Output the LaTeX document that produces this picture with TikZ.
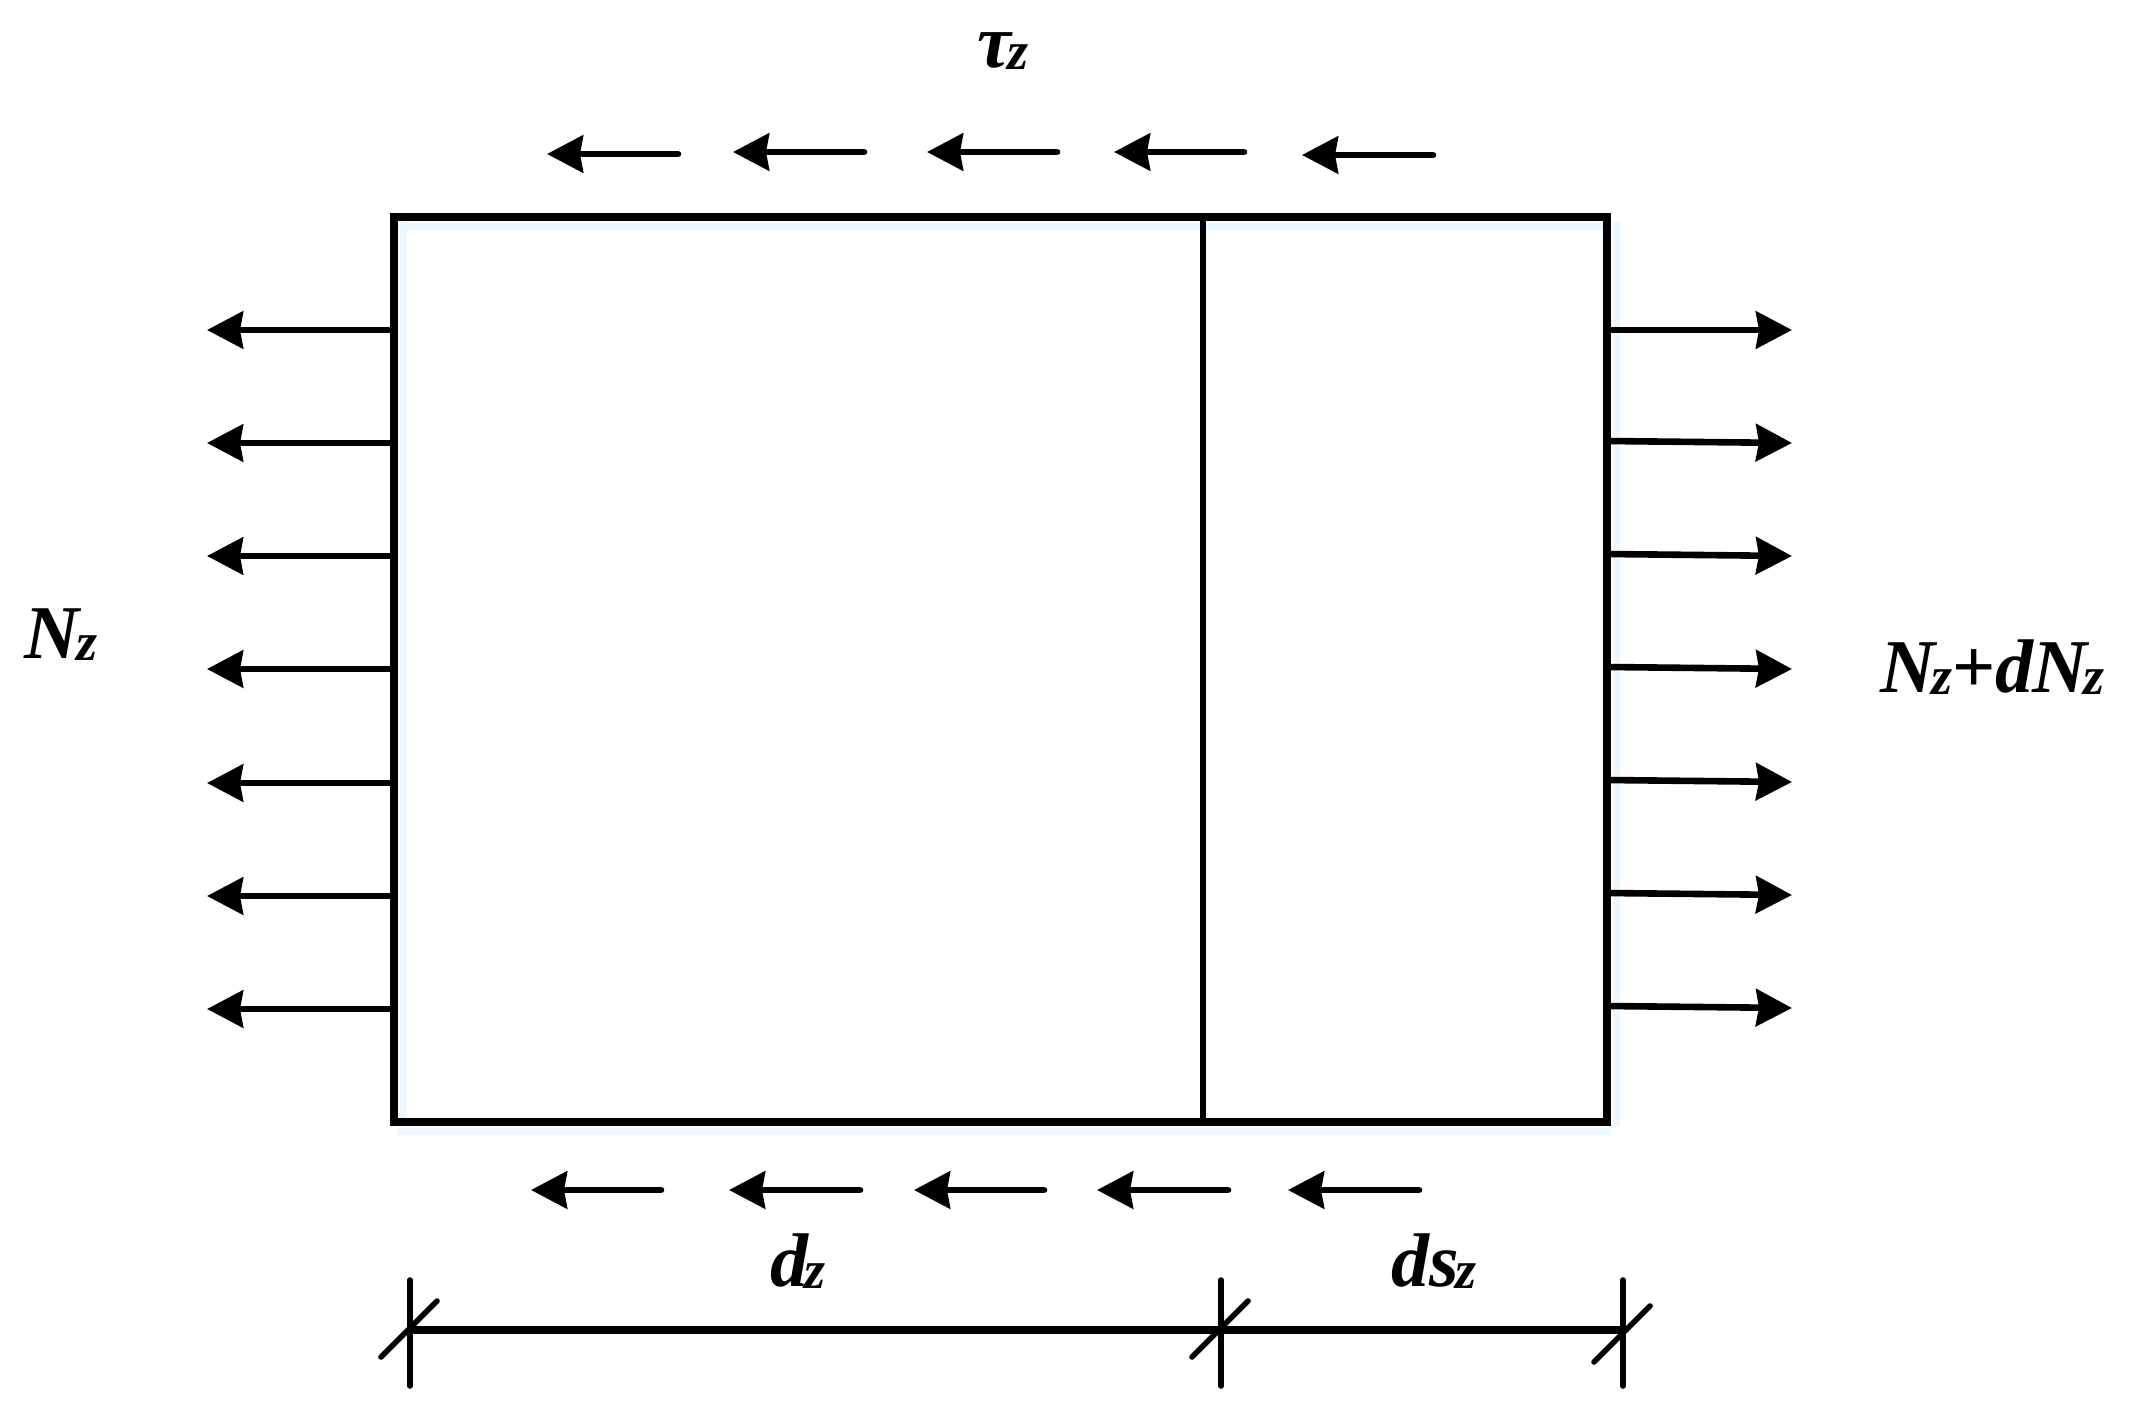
\documentclass[tikz,border=0pt]{standalone}
\usepackage{fontspec}
\setmainfont{Liberation Serif}
\usetikzlibrary{arrows.meta,calc}
\newcommand{\bigN}{{\fontsize{38}{40}\selectfont\bfseries\itshape N}}
\newcommand{\bigD}{{\fontsize{38}{40}\selectfont\bfseries\itshape d}}
\newcommand{\subZ}{\kern-1.6pt\raisebox{-1pt}{\fontsize{27}{30}\selectfont\bfseries\itshape z}}
\tikzset{
  x=0.5pt,y=-0.5pt,
  beam/.style={draw=black,line width=4pt,inner sep=0pt,outer sep=0pt,minimum width=606.5pt,minimum height=452.5pt},
  glow/.style={draw=blue!35!cyan!8!white,line width=3.5pt},
  force/.style={draw=black,line width=3.3pt,line cap=round,-{Stealth[length=18pt,width=18.5pt,inset=1.5pt]}},
  sideforce/.style={draw=black,line width=3.3pt,-{Stealth[length=18pt,width=18.5pt,inset=1.5pt]}},
  divider/.style={draw=black,line width=3pt},
  dimline/.style={draw=black,line width=4pt},
  tick/.style={draw=black,line width=2.8pt,line cap=round},
  lab/.style={inner sep=0pt,outer sep=0pt,anchor=base west,text=black}
}
\begin{document}
\begin{tikzpicture}
\useasboundingbox (0,0) rectangle (2130,1418);
% pale halo under the outline
\draw[glow] (397,226) -- (1604,226);
\draw[glow] (397,1131) -- (1610,1131);
\draw[glow] (403,222) -- (403,1126);
\draw[glow] (1616,222) -- (1616,1126);
% beam
\node[beam,anchor=north west] (box) at (394,217) {};
\coordinate (divT) at (1203,217);
\coordinate (divB) at (1203,1122);
\draw[divider] (divT) -- (divB);
% left and right normal forces
\foreach \i/\yy in {1/330,2/443,3/556,4/669,5/783,6/896,7/1009}{
  \coordinate (L\i) at (207,\yy);
  \coordinate (LS\i) at (box.west |- L\i);
  \draw[sideforce] (LS\i) -- (L\i);
}
\foreach \i/\ya/\yb in {1/330/330,2/441/443,3/554/556,4/667/669,5/780/782,6/893/895,7/1006/1008}{
  \coordinate (RS\i) at (1607,\ya);
  \coordinate (R\i) at (1792,\yb);
  \draw[sideforce] (RS\i) -- (R\i);
}
% top shear arrows
\foreach \i/\t/\h/\yy in {1/678/547/154,2/864/733/152,3/1057/927/152,4/1244/1114/152,5/1433/1302/155}{
  \coordinate (TA\i) at (\t,\yy);
  \coordinate (TB\i) at (\h,\yy);
  \draw[force] (TA\i) -- (TB\i);
}
% bottom shear arrows
\foreach \i/\t/\h in {1/661/531,2/860/729,3/1044/914,4/1228/1097,5/1419/1288}{
  \coordinate (BA\i) at (\t,1190);
  \coordinate (BB\i) at (\h,1190);
  \draw[force] (BA\i) -- (BB\i);
}
% dimension line
\coordinate (D1) at (410,1330);
\coordinate (D2) at (1221,1330);
\coordinate (D3) at (1623,1330);
\draw[dimline] (D1) -- (D2);
\draw[dimline] (D2) -- (D3);
\foreach \n/\xx/\dy in {D1/410/0,D2/1221/0,D3/1623/5}{
  \coordinate (\n t) at (\xx,1280);
  \coordinate (\n b) at (\xx,1386);
  \draw[tick] (\n t) -- (\n b);
  \coordinate (\n s) at ($(\n)+(-29,27+\dy)$);
  \coordinate (\n e) at ($(\n)+(27,-29+\dy)$);
  \draw[tick] (\n s) -- (\n e);
}
% labels
\node[lab] (tau) at (977,68) {{\fontsize{38}{40}\selectfont\bfseries\itshape τ}\subZ};
\node[lab] (nl) at (25,658) {\bigN\subZ};
\node[lab] (nr) at (1880,692) {\bigN\subZ{\fontsize{38}{40}\selectfont\bfseries +}\kern-0.5pt\bigD\kern-0.5pt\bigN\subZ};
\node[lab] (dz) at (770,1286) {\bigD\subZ};
\node[lab] (dsz) at (1391,1286) {\bigD{\fontsize{38}{40}\selectfont\bfseries\itshape s}\subZ};
\end{tikzpicture}
\end{document}
